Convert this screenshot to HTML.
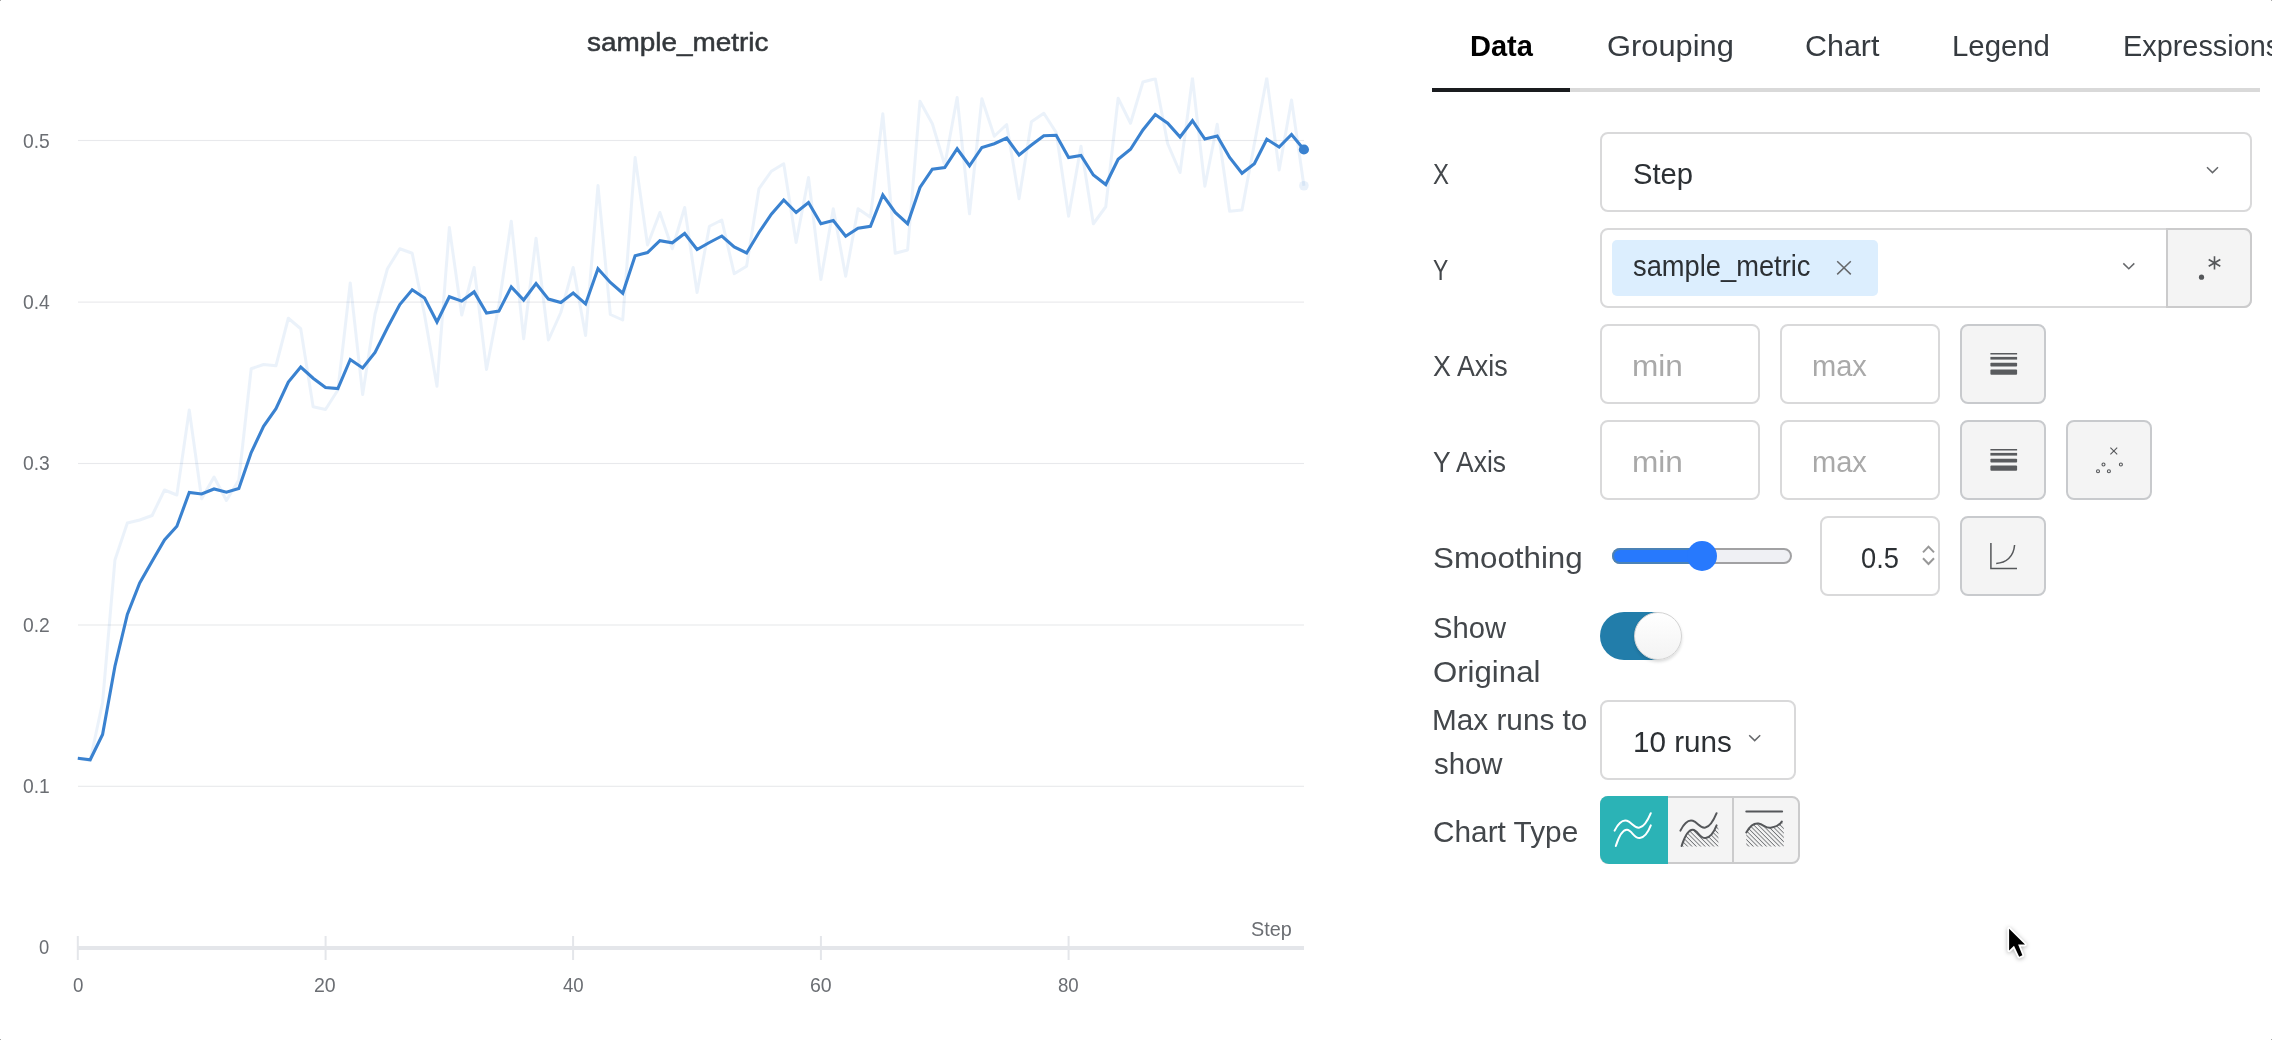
<!DOCTYPE html>
<html lang="en"><head><meta charset="utf-8"><title>sample_metric</title>
<style>
html,body{margin:0;padding:0;background:#fff;}
body{width:2272px;height:1040px;position:relative;overflow:hidden;font-family:"Liberation Sans",sans-serif;}
.t{position:absolute;white-space:nowrap;line-height:1;transform-origin:0 0;display:inline-block;}
.abs{position:absolute;box-sizing:border-box;}
.box{position:absolute;box-sizing:border-box;border:2px solid #d9d9da;border-radius:8px;background:#fff;}
.btn{position:absolute;box-sizing:border-box;border:2px solid #c8cacd;border-radius:8px;background:#f4f4f4;}
svg{position:absolute;left:0;top:0;overflow:visible;}
</style></head>
<body>
<!-- ================= chart ================= -->
<svg id="chart" width="1420" height="1040" viewBox="0 0 1420 1040">
<g fill="#e8e9ec">
<rect x="78" y="139.95" width="1226" height="1.1"/>
<rect x="78" y="301.55" width="1226" height="1.1"/>
<rect x="78" y="462.95" width="1226" height="1.1"/>
<rect x="78" y="624.45" width="1226" height="1.1"/>
<rect x="78" y="785.75" width="1226" height="1.1"/>
</g>
<rect x="78" y="946" width="1226" height="4" fill="#e4e6ea"/>
<g fill="#e4e6ea">
<rect x="76.8" y="936" width="2" height="24"/>
<rect x="324.6" y="936" width="2" height="24"/>
<rect x="572.1" y="936" width="2" height="24"/>
<rect x="819.9" y="936" width="2" height="24"/>
<rect x="1067.6" y="936" width="2" height="24"/>
</g>
<clipPath id="plotclip"><rect x="70" y="77.6" width="1250" height="880"/></clipPath>
<polyline clip-path="url(#plotclip)" fill="none" stroke="#3a82d0" stroke-opacity="0.1" stroke-width="3" stroke-linejoin="round" points="77.8,758.25 90.19,760.5 102.57,702.5 114.95,560 127.34,523 139.72,520 152.11,515.5 164.5,490 176.88,495 189.26,410 201.65,498.75 214.03,477 226.42,500.5 238.81,480 251.19,368.75 263.57,364.5 275.96,365.75 288.34,318.25 300.73,328.75 313.12,406.75 325.5,409.5 337.88,390 350.27,283 362.66,394.5 375.04,314 387.43,268.75 399.81,248.75 412.19,253.25 424.58,315 436.97,386.25 449.35,227.5 461.74,315 474.12,267.5 486.5,369.5 498.89,305 511.27,221.25 523.66,338.75 536.04,238.25 548.43,340 560.81,312.5 573.2,267.5 585.58,335.5 597.97,185.5 610.35,314.5 622.74,320 635.12,157.5 647.51,245 659.89,212.5 672.28,248.75 684.66,207.5 697.05,292.5 709.43,226.25 721.82,220 734.2,273.75 746.59,266.25 758.97,188.75 771.36,171.25 783.74,163.75 796.13,242.5 808.51,177.5 820.9,279.5 833.28,208.75 845.67,276.25 858.05,208.75 870.44,217.25 882.82,113.75 895.21,253.25 907.59,250 919.98,101.25 932.36,123.75 944.75,165 957.13,97.5 969.52,213.75 981.9,98.75 994.29,136.25 1006.67,124.5 1019.06,198.75 1031.44,121.75 1043.83,113.25 1056.21,132.5 1068.6,216.25 1080.98,146.25 1093.37,223.75 1105.75,206.75 1118.14,98.25 1130.52,123.25 1142.91,82 1155.29,78.75 1167.68,143.75 1180.06,172.5 1192.45,78 1204.84,186.25 1217.22,124.25 1229.61,211.25 1241.99,210 1254.38,143.75 1266.76,78 1279.14,170 1291.53,100 1303.91,185.75"/>
<polyline fill="none" stroke="#3a82d0" stroke-width="3.1" stroke-linejoin="miter" stroke-miterlimit="10" points="77.8,758.25 90.19,759.75 102.57,734.5 114.95,666.25 127.34,614.5 139.72,583 152.11,561.25 164.5,540 176.88,526.25 189.26,492.5 201.65,494 214.03,489 226.42,492.25 238.81,488.5 251.19,452.5 263.57,426.25 275.96,408.75 288.34,382 300.73,367 313.12,378.25 325.5,387.5 337.88,388.5 350.27,359.5 362.66,368 375.04,352.5 387.43,327.75 399.81,304.5 412.19,289.75 424.58,298 436.97,322 449.35,296.75 461.74,301.1 474.12,291.9 486.5,313.1 498.89,311.1 511.27,286.9 523.66,300 536.04,283.5 548.43,299.1 560.81,302.5 573.2,293 585.58,303.9 597.97,268.75 610.35,282.5 622.74,293.25 635.12,255.75 647.51,252.5 659.89,240.75 672.28,242.75 684.66,233.5 697.05,249.5 709.43,242.5 721.82,236 734.2,247 746.59,253 758.97,232.5 771.36,214.25 783.74,200 796.13,212.5 808.51,202.5 820.9,223.75 833.28,220.5 845.67,236.25 858.05,228.25 870.44,226.25 882.82,195 895.21,212.5 907.59,223.75 919.98,187.5 932.36,169.25 944.75,167.5 957.13,148.75 969.52,165.75 981.9,147.5 994.29,143.75 1006.67,138 1019.06,155 1031.44,145 1043.83,135.75 1056.21,135.25 1068.6,157.5 1080.98,155.5 1093.37,175 1105.75,184.5 1118.14,159.25 1130.52,149.25 1142.91,130 1155.29,114.5 1167.68,123.25 1180.06,137 1192.45,120.75 1204.84,139 1217.22,136 1229.61,157.5 1241.99,173.25 1254.38,163.75 1266.76,139.25 1279.14,147 1291.53,134.5 1303.91,149.5"/>
<circle cx="1303.91" cy="185.75" r="4.8" fill="#3a82d0" fill-opacity="0.11"/>
<circle cx="1303.91" cy="149.5" r="5.1" fill="#3a82d0"/>
</svg>

<!-- ================= panel: tabs ================= -->
<div class="abs" style="left:1432px;top:88px;width:828px;height:4px;background:#d9d9d9;"></div>
<div class="abs" style="left:1432px;top:88px;width:138px;height:4px;background:#1a1c1f;"></div>

<!-- X row -->
<div class="box" style="left:1600px;top:132px;width:652px;height:80px;"></div>
<!-- Y row -->
<div class="box" style="left:1600px;top:228px;width:652px;height:80px;"></div>
<div class="abs" style="left:1612px;top:240px;width:266px;height:56px;background:#dceefe;border-radius:5px;"></div>
<div class="abs" style="left:2166px;top:228px;width:86px;height:80px;background:#f4f4f4;border:2px solid #cbcbcc;border-radius:0 8px 8px 0;"></div>
<!-- X Axis row -->
<div class="box" style="left:1600px;top:324px;width:160px;height:80px;"></div>
<div class="box" style="left:1780px;top:324px;width:160px;height:80px;"></div>
<div class="btn" style="left:1960px;top:324px;width:86px;height:80px;"></div>
<!-- Y Axis row -->
<div class="box" style="left:1600px;top:420px;width:160px;height:80px;"></div>
<div class="box" style="left:1780px;top:420px;width:160px;height:80px;"></div>
<div class="btn" style="left:1960px;top:420px;width:86px;height:80px;"></div>
<div class="btn" style="left:2066px;top:420px;width:86px;height:80px;"></div>
<!-- Smoothing row -->
<div class="abs" style="left:1612px;top:548px;width:180px;height:16px;border-radius:8px;background:#eff0f4;border:2px solid #a1a1a3;"></div>
<div class="abs" style="left:1612px;top:548px;width:96px;height:16px;border-radius:8px 0 0 8px;background:#2779fd;border:2px solid #4b82b6;border-right:none;"></div>
<div class="abs" style="left:1687px;top:541px;width:30px;height:30px;border-radius:50%;background:#2779fd;"></div>
<div class="box" style="left:1820px;top:516px;width:120px;height:80px;"></div>
<div class="btn" style="left:1960px;top:516px;width:86px;height:80px;"></div>
<!-- Show original toggle -->
<div class="abs" style="left:1600px;top:612px;width:76px;height:48px;border-radius:24px;background:#227daa;"></div>
<div class="abs" style="left:1633.5px;top:612px;width:48px;height:48px;border-radius:50%;background:linear-gradient(180deg,#ffffff 0%,#fbfbfb 35%,#f3f3f3 100%);border:1.5px solid #d3d3d3;box-shadow:0 2px 3px rgba(34,36,38,.16);"></div>
<!-- Max runs -->
<div class="box" style="left:1600px;top:700px;width:196px;height:80px;"></div>
<!-- Chart type -->
<div class="abs" style="left:1600px;top:796px;width:200px;height:68px;border-radius:8px;background:#f4f4f4;border:2px solid #cbcbcc;"></div>
<div class="abs" style="left:1600px;top:796px;width:68px;height:68px;border-radius:8px 0 0 9px;background:#2bb3b6;"></div>
<div class="abs" style="left:1732px;top:797px;width:2px;height:66px;background:#cbcbcc;"></div>

<!-- ================= icons ================= -->
<svg id="icons" width="2272" height="1040" viewBox="0 0 2272 1040">
<g fill="none" stroke="#66686b" stroke-width="1.5" stroke-linecap="butt">
<path d="M2207 167.2 L2212.5 172.6 L2218 167.2"/>
<path d="M2123.3 263.4 L2128.8 268.8 L2134.3 263.4"/>
<path d="M1749.2 735.2 L1754.7 740.6 L1760.2 735.2"/>
<path d="M1837.2 261.2 L1850.8 274.4 M1850.8 261.2 L1837.2 274.4"/>
</g>
<!-- regex .* -->
<circle cx="2201.5" cy="277.2" r="2.6" fill="#55575a"/>
<g stroke="#55575a" stroke-width="1.6" fill="none">
<path d="M2214.5 256.2 V269.6 M2208.7 259.5 L2220.3 266.3 M2220.3 259.5 L2208.7 266.3"/>
</g>
<!-- log scale icons -->
<g fill="#595b5e">
<rect x="1990.4" y="353" width="26.7" height="1.5"/><rect x="1990.4" y="356.9" width="26.7" height="2.7"/><rect x="1990.4" y="362.7" width="26.7" height="3.9" rx="0.8"/><rect x="1990.4" y="369.6" width="26.7" height="5.1" rx="1"/>
<rect x="1990.4" y="449" width="26.7" height="1.5"/><rect x="1990.4" y="452.9" width="26.7" height="2.7"/><rect x="1990.4" y="458.7" width="26.7" height="3.9" rx="0.8"/><rect x="1990.4" y="465.6" width="26.7" height="5.1" rx="1"/>
</g>
<!-- outlier icon -->
<g fill="none" stroke="#55575a" stroke-width="1.1">
<path d="M2110.4 447.6 L2117.2 454.4 M2117.2 447.6 L2110.4 454.4"/>
<circle cx="2103.5" cy="464.5" r="1.5"/><circle cx="2120.9" cy="464.5" r="1.5"/><circle cx="2098" cy="471.3" r="1.5"/><circle cx="2108.9" cy="471.3" r="1.5"/>
</g>
<!-- spinner -->
<g fill="none" stroke="#989898" stroke-width="2">
<path d="M1923 552.4 L1928.5 546.6 L1934 552.4"/><path d="M1923 558.2 L1928.5 564 L1934 558.2"/>
</g>
<!-- smoothing type icon -->
<g fill="none" stroke="#55575a" stroke-width="1.5">
<path d="M1990.9 543 V568.4 H2017"/>
<path d="M1996.2 563.4 C2006 563 2013.6 557 2014.6 545"/>
</g>
<!-- chart type icons -->
<defs>
<pattern id="hatch" width="3.1" height="3.1" patternUnits="userSpaceOnUse" patternTransform="rotate(45)"><rect x="0" y="0" width="3.1" height="0.85" fill="#707275"/></pattern>
</defs>
<g fill="none" stroke="#fff" stroke-width="2" stroke-linecap="round">
<path d="M1614.6 830.6 C1619 822 1623 819.6 1627 820.8 C1632 822.4 1634 828.6 1639.6 827.6 C1645 826.6 1648.4 819 1650.8 813.2"/>
<path d="M1615.8 846 C1619 836 1622.6 829.6 1627 829.8 C1632 830.2 1634 838.6 1639.8 838 C1645.4 837.4 1648.6 831 1650.8 825.4"/>
</g>
<path d="M1681.6 846 C1684.8 836 1688.4 829.6 1692.8 829.8 C1697.8 830.2 1699.8 838.6 1705.6 838 C1711.2 837.4 1714.4 831 1716.6 825.4 L1718.4 828 V846.4 H1681.6 Z" fill="url(#hatch)"/>
<g fill="none" stroke="#55575a" stroke-width="2" stroke-linecap="round">
<path d="M1680.4 830.6 C1684.8 822 1688.8 819.6 1692.8 820.8 C1697.8 822.4 1699.8 828.6 1705.4 827.6 C1710.8 826.6 1714.2 819 1716.6 813.2"/>
<path d="M1681.6 846 C1684.8 836 1688.4 829.6 1692.8 829.8 C1697.8 830.2 1699.8 838.6 1705.6 838 C1711.2 837.4 1714.4 831 1716.6 825.4"/>
</g>
<path d="M1746.3 832.4 C1750 826 1754 823 1758.4 823.6 C1763.6 824.4 1765.6 828.6 1770.8 827.8 C1776 827 1779.6 825 1781.8 821.6 L1783.8 827 V846.4 H1746.3 Z" fill="url(#hatch)"/>
<g fill="none" stroke="#55575a" stroke-width="2" stroke-linecap="round">
<path d="M1746.3 811.4 H1782.1"/>
<path d="M1746.3 832.4 C1750 826 1754 823 1758.4 823.6 C1763.6 824.4 1765.6 828.6 1770.8 827.8 C1776 827 1779.6 825 1781.8 821.6"/>
</g>
<!-- mouse cursor -->
<g>
<path d="M2009.1 928.8 V950.4 L2014 945.8 L2019.2 956.7 L2022.4 955.3 L2018.1 944.6 H2025 Z" fill="#000" stroke="#fff" stroke-width="3.6" stroke-linejoin="round" style="filter:drop-shadow(0 1.5px 2px rgba(0,0,0,.3))"/>
<path d="M2009.1 928.8 V950.4 L2014 945.8 L2019.2 956.7 L2022.4 955.3 L2018.1 944.6 H2025 Z" fill="#000"/>
</g>
</svg>

<!-- frame corner pixels -->
<div class="abs" style="left:0;top:0;width:1px;height:1px;background:#a9a9a9;"></div>
<div class="abs" style="left:2271px;top:0;width:1px;height:1px;background:#a9a9a9;"></div>
<div class="abs" style="left:0;top:1039px;width:1px;height:1px;background:#a9a9a9;"></div>
<div class="abs" style="left:2271px;top:1039px;width:1px;height:1px;background:#a9a9a9;"></div>
<!-- ================= text ================= -->
<span id="t_title" class="t" style="left:586.50px;top:30.33px;font-size:25.6px;font-weight:400;color:#33373b;transform:scaleX(1.0906);-webkit-text-stroke:0.5px #33373b;">sample_metric</span>
<span id="t_step_ax" class="t" style="left:1250.60px;top:918.67px;font-size:20px;font-weight:400;color:#6b6e73;transform:scaleX(0.9910);">Step</span>
<span id="t_data" class="t" style="left:1469.71px;top:31.21px;font-size:29.4px;font-weight:700;color:#000;transform:scaleX(0.9880);">Data</span>
<span id="t_group" class="t" style="left:1606.75px;top:31.21px;font-size:29.4px;font-weight:400;color:#363b40;transform:scaleX(1.0493);">Grouping</span>
<span id="t_chart" class="t" style="left:1804.96px;top:31.21px;font-size:29.4px;font-weight:400;color:#363b40;transform:scaleX(1.0353);">Chart</span>
<span id="t_legend" class="t" style="left:1951.90px;top:31.21px;font-size:29.4px;font-weight:400;color:#363b40;transform:scaleX(0.9986);">Legend</span>
<span id="t_expr" class="t" style="left:2123.24px;top:31.21px;font-size:29.4px;font-weight:400;color:#363b40;transform:scaleX(0.9819);">Expressions</span>
<span id="t_x" class="t" style="left:1433.20px;top:159.01px;font-size:29.4px;font-weight:400;color:#43474b;transform:scaleX(0.8158);">X</span>
<span id="t_stepv" class="t" style="left:1633.01px;top:159.01px;font-size:29.4px;font-weight:400;color:#2c3034;transform:scaleX(0.9930);">Step</span>
<span id="t_y" class="t" style="left:1433.20px;top:255.01px;font-size:29.4px;font-weight:400;color:#43474b;transform:scaleX(0.7789);">Y</span>
<span id="t_chip" class="t" style="left:1632.60px;top:251.41px;font-size:29.4px;font-weight:400;color:#2c3034;transform:scaleX(0.9286);">sample_metric</span>
<span id="t_xaxis" class="t" style="left:1433.20px;top:350.91px;font-size:29.4px;font-weight:400;color:#43474b;transform:scaleX(0.9141);">X Axis</span>
<span id="t_min1" class="t" style="left:1631.52px;top:350.91px;font-size:29.4px;font-weight:400;color:#a9a9a9;transform:scaleX(1.0753);">min</span>
<span id="t_max1" class="t" style="left:1811.61px;top:350.91px;font-size:29.4px;font-weight:400;color:#a9a9a9;transform:scaleX(0.9885);">max</span>
<span id="t_yaxis" class="t" style="left:1433.20px;top:446.81px;font-size:29.4px;font-weight:400;color:#43474b;transform:scaleX(0.8995);">Y Axis</span>
<span id="t_min2" class="t" style="left:1631.52px;top:446.81px;font-size:29.4px;font-weight:400;color:#a9a9a9;transform:scaleX(1.0753);">min</span>
<span id="t_max2" class="t" style="left:1811.61px;top:446.81px;font-size:29.4px;font-weight:400;color:#a9a9a9;transform:scaleX(0.9885);">max</span>
<span id="t_smooth" class="t" style="left:1432.83px;top:542.91px;font-size:29.4px;font-weight:400;color:#43474b;transform:scaleX(1.0654);">Smoothing</span>
<span id="t_05" class="t" style="left:1861.27px;top:542.91px;font-size:29.4px;font-weight:400;color:#2c3034;transform:scaleX(0.9263);">0.5</span>
<span id="t_show" class="t" style="left:1433.01px;top:613.01px;font-size:29.4px;font-weight:400;color:#43474b;transform:scaleX(0.9933);">Show</span>
<span id="t_orig" class="t" style="left:1432.94px;top:657.11px;font-size:29.4px;font-weight:400;color:#43474b;transform:scaleX(1.0603);">Original</span>
<span id="t_maxruns" class="t" style="left:1431.98px;top:704.81px;font-size:29.4px;font-weight:400;color:#43474b;transform:scaleX(1.0119);">Max runs to</span>
<span id="t_show2" class="t" style="left:1434.00px;top:748.81px;font-size:29.4px;font-weight:400;color:#43474b;transform:scaleX(0.9988);">show</span>
<span id="t_10runs" class="t" style="left:1632.58px;top:727.11px;font-size:29.4px;font-weight:400;color:#2c3034;transform:scaleX(1.0091);">10 runs</span>
<span id="t_ctype" class="t" style="left:1432.99px;top:817.11px;font-size:29.4px;font-weight:400;color:#43474b;transform:scaleX(1.0140);">Chart Type</span>
<span id="t_yl0" class="t" style="left:22.70px;top:130.53px;font-size:20.4px;font-weight:400;color:#6b6e73;transform:scaleX(0.9462);">0.5</span>
<span id="t_yl1" class="t" style="left:22.70px;top:291.93px;font-size:20.4px;font-weight:400;color:#6b6e73;transform:scaleX(0.9462);">0.4</span>
<span id="t_yl2" class="t" style="left:22.70px;top:453.23px;font-size:20.4px;font-weight:400;color:#6b6e73;transform:scaleX(0.9462);">0.3</span>
<span id="t_yl3" class="t" style="left:22.70px;top:614.63px;font-size:20.4px;font-weight:400;color:#6b6e73;transform:scaleX(0.9462);">0.2</span>
<span id="t_yl4" class="t" style="left:22.70px;top:775.93px;font-size:20.4px;font-weight:400;color:#6b6e73;transform:scaleX(0.9462);">0.1</span>
<span id="t_yl5" class="t" style="left:39.30px;top:937.33px;font-size:20.4px;font-weight:400;color:#6b6e73;transform:scaleX(0.9000);">0</span>
<span id="t_xl0" class="t" style="left:72.65px;top:975.27px;font-size:20px;font-weight:400;color:#6b6e73;transform:scaleX(0.9364);">0</span>
<span id="t_xl1" class="t" style="left:314.32px;top:975.27px;font-size:20px;font-weight:400;color:#6b6e73;transform:scaleX(0.9752);">20</span>
<span id="t_xl2" class="t" style="left:562.80px;top:975.27px;font-size:20px;font-weight:400;color:#6b6e73;transform:scaleX(0.9312);">40</span>
<span id="t_xl3" class="t" style="left:809.62px;top:975.27px;font-size:20px;font-weight:400;color:#6b6e73;transform:scaleX(0.9752);">60</span>
<span id="t_xl4" class="t" style="left:1058.30px;top:975.27px;font-size:20px;font-weight:400;color:#6b6e73;transform:scaleX(0.9312);">80</span>
</body></html>
